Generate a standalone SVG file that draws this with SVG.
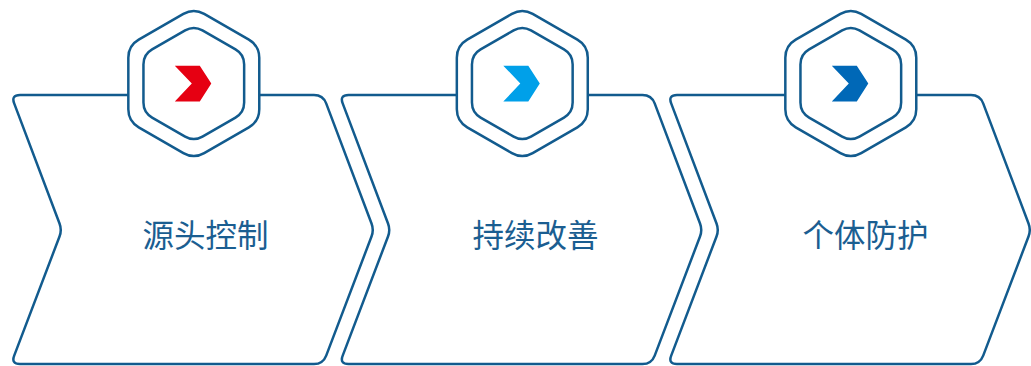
<svg xmlns="http://www.w3.org/2000/svg" xmlns:xlink="http://www.w3.org/1999/xlink" width="1031" height="366" viewBox="0 0 1031 366">
<style>
.panel{fill:#ffffff;stroke:#125B8E;stroke-width:2.5;}
.hex{fill:#ffffff;stroke:#125B8E;stroke-width:2.5;}
.lbl{font-family:"Noto Sans CJK SC","Noto Sans",sans-serif;font-size:31.5px;fill:#1B5E91;text-anchor:middle;}
</style>
<defs>
<path id="panelShape" d="M20,95 L314,95 Q323,95 326.18,103.42 L371.53,223.45 Q374,230 371.51,236.54 L326.2,355.59 Q323,364 314,364 L20,364 Q11,364 14.2,355.59 L59.51,236.54 Q62,230 59.53,223.45 L14.18,103.42 Q11,95 20,95 Z"/>
<path id="hexOuter" d="M10.39,-69.6 L55.08,-43.8 Q65.47,-37.8 65.47,-25.8 L65.47,25.8 Q65.47,37.8 55.08,43.8 L10.39,69.6 Q0,75.6 -10.39,69.6 L-55.08,43.8 Q-65.47,37.8 -65.47,25.8 L-65.47,-25.8 Q-65.47,-37.8 -55.08,-43.8 L-10.39,-69.6 Q0,-75.6 10.39,-69.6 Z"/>
<path id="hexInner" d="M8.66,-53.1 L41.69,-34.05 Q50.35,-29.05 50.35,-19.05 L50.35,19.05 Q50.35,29.05 41.69,34.05 L8.66,53.1 Q0,58.1 -8.66,53.1 L-41.69,34.05 Q-50.35,29.05 -50.35,19.05 L-50.35,-19.05 Q-50.35,-29.05 -41.69,-34.05 L-8.66,-53.1 Q0,-58.1 8.66,-53.1 Z"/>
<polygon id="chev" points="-19,-17.8 6,-17.8 17.5,0 6,18 -19,18 -2,0"/>
</defs>
<g id="node1">
<use href="#panelShape" class="panel"/>
<g transform="translate(193.8,83.5)">
<use href="#hexOuter" class="hex"/>
<use href="#hexInner" class="hex"/>
<use href="#chev" fill="#E60012"/>
</g>
<text class="lbl" x="205.5" y="247">源头控制</text>
</g>
<g id="node2">
<use href="#panelShape" class="panel" transform="translate(328.5,0)"/>
<g transform="translate(522.3,83.5)">
<use href="#hexOuter" class="hex"/>
<use href="#hexInner" class="hex"/>
<use href="#chev" fill="#00A0E9"/>
</g>
<text class="lbl" x="535.5" y="247">持续改善</text>
</g>
<g id="node3">
<use href="#panelShape" class="panel" transform="translate(657,0)"/>
<g transform="translate(850.8,83.5)">
<use href="#hexOuter" class="hex"/>
<use href="#hexInner" class="hex"/>
<use href="#chev" fill="#0068B7"/>
</g>
<text class="lbl" x="865.5" y="247">个体防护</text>
</g>
<g id="connectors"></g>
</svg>
